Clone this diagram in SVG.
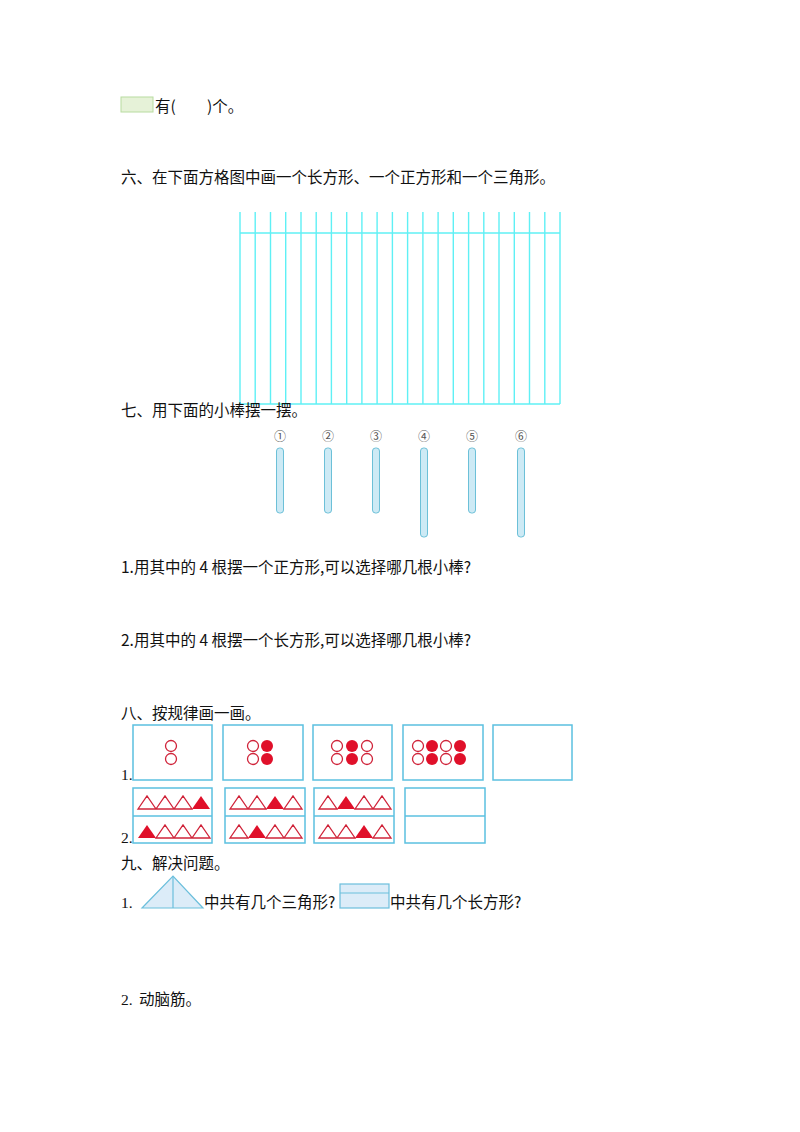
<svg xmlns="http://www.w3.org/2000/svg" width="800" height="1132" viewBox="0 0 800 1132">
<style>
text{font-family:"Liberation Serif","Noto Sans CJK SC",serif;font-size:15.5px;fill:#111}
.cjk{font-family:"Noto Sans CJK SC",sans-serif}
.g{stroke:#5ff0f5;stroke-width:1.4;fill:none}
.b{stroke:#5bc0e0;stroke-width:1.5;fill:#fff}
.oc{fill:none;stroke:#d0243a;stroke-width:1.3}
.fc{fill:#e0102a}
.ot{fill:none;stroke:#d0243a;stroke-width:1.3}
.ft{fill:#e0102a}
.stick{fill:#cdeaf5;stroke:#6cc0d8;stroke-width:1}
.num{font-size:12px;fill:#555;text-anchor:middle}
</style>
<rect x="121" y="97" width="32" height="15" fill="#e6f2d8" stroke="#b8dca0"/>
<text x="155" y="112" class="cjk">有(</text>
<text x="207" y="112" class="cjk">)个。</text>
<text x="121" y="183" class="cjk">六、在下面方格图中画一个长方形、一个正方形和一个三角形。</text>
<g id="grid" class="g">
<line x1="240" y1="233" x2="560" y2="233"/>
<line x1="240" y1="404" x2="560" y2="404"/>
<path d="M240 212V404M255.2 212V404M270.5 212V404M285.7 212V404M301 212V404M316.2 212V404M331.4 212V404M346.7 212V404M361.9 212V404M377.1 212V404M392.4 212V404M407.6 212V404M422.9 212V404M438.1 212V404M453.3 212V404M468.6 212V404M483.8 212V404M499 212V404M514.3 212V404M529.5 212V404M544.8 212V404M560 212V404"/>
</g>
<text x="121" y="416" class="cjk">七、用下面的小棒摆一摆。</text>
<g id="sticks">
<text x="280" y="441" class="num">①</text><rect class="stick" x="276.5" y="448" width="7" height="65" rx="3"/>
<text x="328" y="441" class="num">②</text><rect class="stick" x="324.5" y="448" width="7" height="65" rx="3"/>
<text x="376" y="441" class="num">③</text><rect class="stick" x="372.5" y="448" width="7" height="65" rx="3"/>
<text x="424" y="441" class="num">④</text><rect class="stick" x="420.5" y="448" width="7" height="89" rx="3"/>
<text x="472" y="441" class="num">⑤</text><rect class="stick" x="468.5" y="448" width="7" height="65" rx="3"/>
<text x="521" y="441" class="num">⑥</text><rect class="stick" x="517.5" y="448" width="7" height="89" rx="3"/>
</g>
<text x="121" y="573" class="cjk">1.用其中的 4 根摆一个正方形,可以选择哪几根小棒?</text>
<text x="121" y="646" class="cjk">2.用其中的 4 根摆一个长方形,可以选择哪几根小棒?</text>
<text x="121" y="719" class="cjk">八、按规律画一画。</text>
<text x="121" y="780">1.</text>
<g id="row1">
<rect class="b" x="133" y="725" width="79" height="55"/>
<rect class="b" x="223" y="725" width="80" height="55"/>
<rect class="b" x="313" y="725" width="79" height="55"/>
<rect class="b" x="403" y="725" width="80" height="55"/>
<rect class="b" x="493" y="725" width="79" height="55"/>
<circle class="oc" cx="171" cy="746" r="5.5"/><circle class="oc" cx="171" cy="759" r="5.5"/>
<circle class="oc" cx="253" cy="746" r="5.5"/><circle class="oc" cx="253" cy="759" r="5.5"/>
<circle class="fc" cx="267" cy="746" r="6"/><circle class="fc" cx="267" cy="759" r="6"/>
<circle class="oc" cx="337" cy="746" r="5.5"/><circle class="oc" cx="337" cy="759" r="5.5"/>
<circle class="fc" cx="352" cy="746" r="6"/><circle class="fc" cx="352" cy="759" r="6"/>
<circle class="oc" cx="367" cy="746" r="5.5"/><circle class="oc" cx="367" cy="759" r="5.5"/>
<circle class="oc" cx="418" cy="746" r="5.5"/><circle class="oc" cx="418" cy="759" r="5.5"/>
<circle class="fc" cx="432" cy="746" r="6"/><circle class="fc" cx="432" cy="759" r="6"/>
<circle class="oc" cx="446" cy="746" r="5.5"/><circle class="oc" cx="446" cy="759" r="5.5"/>
<circle class="fc" cx="460" cy="746" r="6"/><circle class="fc" cx="460" cy="759" r="6"/>
</g>
<text x="121" y="843">2.</text>
<g id="row2">
<rect class="b" x="133" y="788" width="79" height="55"/><line class="b" x1="133" y1="816" x2="212" y2="816"/>
<rect class="b" x="225" y="788" width="80" height="55"/><line class="b" x1="225" y1="816" x2="305" y2="816"/>
<rect class="b" x="314" y="788" width="80" height="55"/><line class="b" x1="314" y1="816" x2="394" y2="816"/>
<rect class="b" x="405" y="788" width="80" height="55"/><line class="b" x1="405" y1="816" x2="485" y2="816"/>
<g id="tri-box1">
<path class="ot" d="M138 809l9-13 9 13zM156 809l9-13 9 13zM174 809l9-13 9 13z"/><path class="ft" d="M192 809l9-13 9 13z"/>
<path class="ft" d="M138 838l9-13 9 13z"/><path class="ot" d="M156 838l9-13 9 13zM174 838l9-13 9 13zM192 838l9-13 9 13z"/>
</g>
<g id="tri-box2">
<path class="ot" d="M230 809l9-13 9 13zM248 809l9-13 9 13zM284 809l9-13 9 13z"/><path class="ft" d="M266 809l9-13 9 13z"/>
<path class="ot" d="M230 838l9-13 9 13zM266 838l9-13 9 13zM284 838l9-13 9 13z"/><path class="ft" d="M248 838l9-13 9 13z"/>
</g>
<g id="tri-box3">
<path class="ot" d="M319 809l9-13 9 13zM355 809l9-13 9 13zM373 809l9-13 9 13z"/><path class="ft" d="M337 809l9-13 9 13z"/>
<path class="ot" d="M319 838l9-13 9 13zM337 838l9-13 9 13zM373 838l9-13 9 13z"/><path class="ft" d="M355 838l9-13 9 13z"/>
</g>
</g>
<text x="121" y="869" class="cjk">九、解决问题。</text>
<text x="121" y="908">1.</text>
<g id="fig-tri">
<path d="M142 908L173 876L203 908Z" fill="#dcecf8" stroke="#6bbfdc" stroke-width="1.2"/>
<line x1="173" y1="876" x2="173" y2="908" stroke="#6bbfdc" stroke-width="1.2"/>
</g>
<text x="204" y="908" class="cjk">中共有几个三角形?</text>
<g id="fig-rect">
<rect x="340" y="884" width="49" height="24" fill="#dcecf8" stroke="#6bbfdc" stroke-width="1.2"/>
<line x1="340" y1="893" x2="389" y2="893" stroke="#6bbfdc" stroke-width="1.2"/>
</g>
<text x="390" y="908" class="cjk">中共有几个长方形?</text>
<text x="121" y="1005">2.</text>
<text x="139" y="1005" class="cjk">动脑筋。</text>
</svg>
